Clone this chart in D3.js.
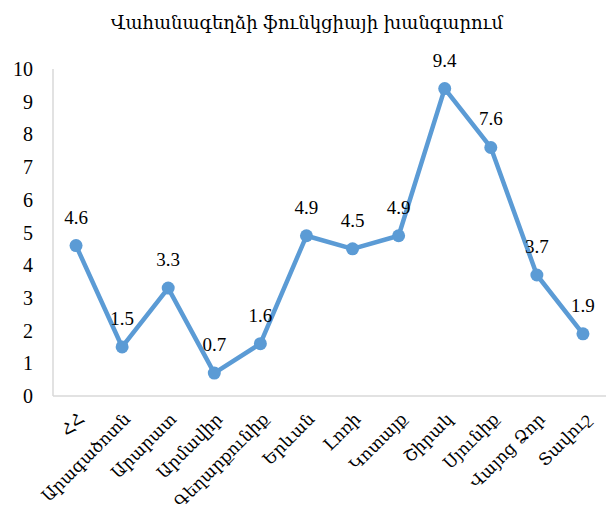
<!DOCTYPE html>
<html>
<head>
<meta charset="utf-8">
<script src="https://cdn.jsdelivr.net/npm/d3@7"></script>
<style>
    body { margin: 0; background: #fff; }
    text { font-family: "Liberation Serif", serif; fill: #000; }
    text.arm { font-family: "DejaVu Serif", "Noto Sans", serif; }
</style>
</head>
<body>
<svg id="chart" width="611" height="529"></svg>
<script>
let title = "Վահանագեղձի ֆունկցիայի խանգարում";
let regions = ["ՀՀ", "Արագածոտն", "Արարատ", "Արմավիր", "Գեղարքունիք", "Երևան",
    "Լոռի", "Կոտայք", "Շիրակ", "Սյունիք", "Վայոց Ձոր", "Տավուշ"];
let values = [4.6, 1.5, 3.3, 0.7, 1.6, 4.9, 4.5, 4.9, 9.4, 7.6, 3.7, 1.9];
let yTicks = [0, 1, 2, 3, 4, 5, 6, 7, 8, 9, 10];

function visualize() {
    let margin = { top: 69, right: 5, bottom: 133, left: 53 };
    let width = 611, height = 529;
    let svg = d3.select("#chart");

    let x = d3.scaleBand()
        .domain(regions)
        .range([margin.left, width - margin.right]);
    let y = d3.scaleLinear()
        .domain([0, 10])
        .range([height - margin.bottom, margin.top]);
    let cx = d => x(d) + x.bandwidth() / 2;

    svg.append("text")
        .attr("class", "arm")
        .attr("x", 307)
        .attr("y", 29)
        .attr("text-anchor", "middle")
        .style("font-size", "18px")
        .text(title);

    // axis lines
    svg.append("line")
        .attr("x1", margin.left).attr("x2", margin.left)
        .attr("y1", margin.top).attr("y2", y(0))
        .attr("stroke", "#d9d9d9").attr("stroke-width", 1.5);
    svg.append("line")
        .attr("x1", margin.left).attr("x2", width - margin.right)
        .attr("y1", y(0)).attr("y2", y(0))
        .attr("stroke", "#d9d9d9").attr("stroke-width", 1.5);

    svg.append("g").selectAll("text")
        .data(yTicks).enter()
        .append("text")
        .attr("x", 33)
        .attr("y", d => y(d))
        .attr("dy", "0.35em")
        .attr("text-anchor", "end")
        .style("font-size", "20px")
        .text(d => d);

    svg.append("g").selectAll("text")
        .data(regions).enter()
        .append("text")
        .attr("class", "arm")
        .attr("transform", d => `translate(${cx(d) + 5}, 416) rotate(-45)`)
        .attr("text-anchor", "end")
        .attr("dy", "0.35em")
        .style("font-size", "17px")
        .text(d => d);

    let line = d3.line()
        .x((d, i) => cx(regions[i]))
        .y(d => y(d));
    svg.append("path")
        .datum(values)
        .attr("d", line)
        .attr("fill", "none")
        .attr("stroke", "#5b9bd5")
        .attr("stroke-width", 4.5)
        .attr("stroke-linejoin", "round");

    svg.append("g").selectAll("circle")
        .data(values).enter()
        .append("circle")
        .attr("cx", (d, i) => cx(regions[i]))
        .attr("cy", d => y(d))
        .attr("r", 6.5)
        .attr("fill", "#5b9bd5");

    svg.append("g").selectAll("text")
        .data(values).enter()
        .append("text")
        .attr("x", (d, i) => cx(regions[i]))
        .attr("y", d => y(d) - 22)
        .attr("text-anchor", "middle")
        .style("font-size", "19px")
        .text(d => d.toFixed(1));
}

visualize();
</script>
</body>
</html>
